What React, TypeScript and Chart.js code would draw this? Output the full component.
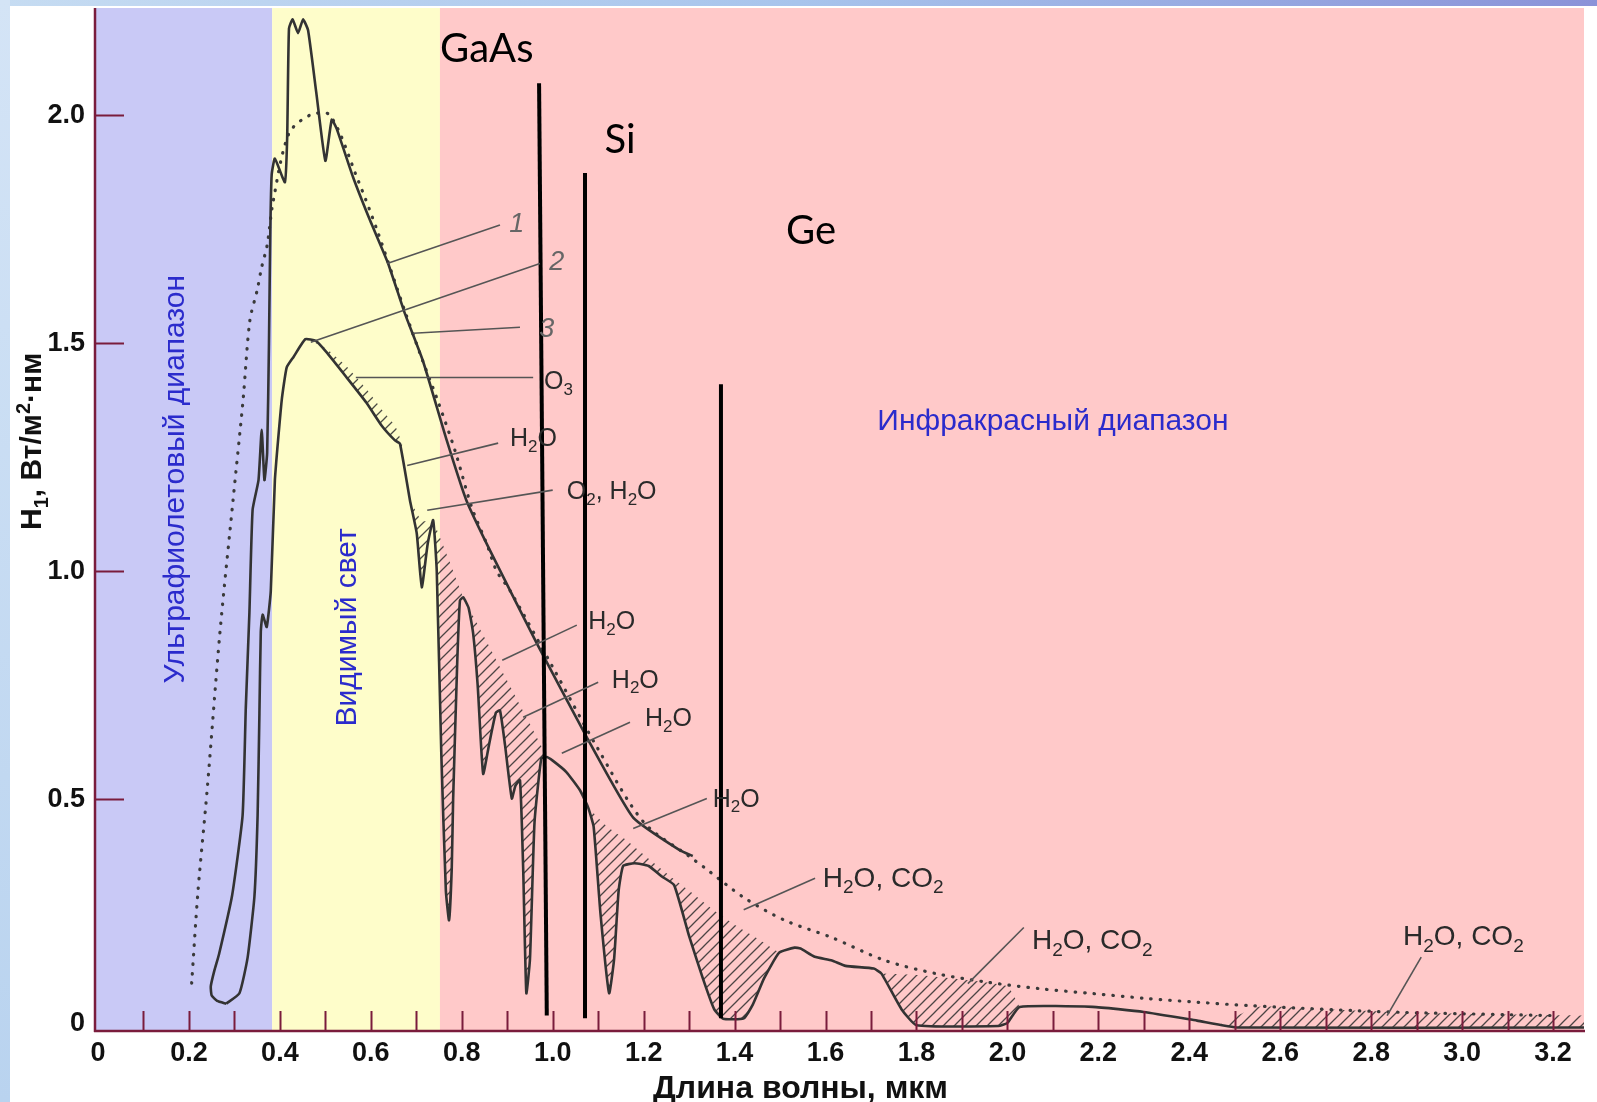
import React, { useEffect, useRef } from 'react';
import { Chart, registerables } from 'chart.js';

Chart.register(...registerables);

// ---------------- data ----------------
const xTickValues = [0, 0.2, 0.4, 0.6, 0.8, 1.0, 1.2, 1.4, 1.6, 1.8, 2.0, 2.2, 2.4, 2.6, 2.8, 3.0, 3.2];
const xTickLabels = ['0', '0.2', '0.4', '0.6', '0.8', '1.0', '1.2', '1.4', '1.6', '1.8', '2.0', '2.2', '2.4', '2.6', '2.8', '3.0', '3.2'];
const xMinorTicks = [0.1, 0.2, 0.3, 0.4, 0.5, 0.6, 0.7, 0.8, 0.9, 1.0, 1.1, 1.2, 1.3, 1.4, 1.5, 1.6, 1.7, 1.8, 1.9, 2.0, 2.1, 2.2, 2.3, 2.4, 2.5, 2.6, 2.7, 2.8, 2.9, 3.0, 3.1, 3.2];
const yTickValues = [0, 0.5, 1.0, 1.5, 2.0];
const yTickLabels = ['0', '0.5', '1.0', '1.5', '2.0'];

const xTitle = 'Длина волны, мкм';
const yTitle = 'H_1, Вт/м^2·нм';

// spectral ranges (µm)
const bandNames = ['Ультрафиолетовый диапазон', 'Видимый свет', 'Инфракрасный диапазон'];
const bandEdges = [0, 0.383, 0.752, 3.27];

// curve 3: black body (dotted)
const bbX = [0.206, 0.22, 0.24, 0.268, 0.297, 0.319, 0.334, 0.35, 0.36, 0.372, 0.385, 0.42, 0.466, 0.51, 0.572, 0.613, 0.675, 0.712, 0.745, 0.785, 0.822, 0.855, 0.877, 0.906, 1.0, 1.1, 1.2, 1.3, 1.333, 1.42, 1.51, 1.614, 1.73, 1.843, 1.957, 2.07, 2.19, 2.3, 2.42, 2.53, 2.65, 2.76, 2.87, 3.0, 3.1, 3.2];
const bbY = [0.097, 0.3, 0.52, 0.864, 1.156, 1.375, 1.55, 1.616, 1.667, 1.715, 1.81, 1.96, 2.0, 2.0, 1.857, 1.75, 1.57, 1.467, 1.38, 1.265, 1.14, 1.06, 1.0, 0.958, 0.79, 0.61, 0.45, 0.375, 0.351, 0.285, 0.235, 0.197, 0.147, 0.118, 0.099, 0.085, 0.074, 0.064, 0.055, 0.048, 0.042, 0.037, 0.033, 0.03, 0.028, 0.026];

// curve 1: extraterrestrial (AM0)
const am0X = [0.282, 0.262, 0.25, 0.248, 0.256, 0.266, 0.295, 0.318, 0.325, 0.333, 0.34, 0.353, 0.36, 0.366, 0.372, 0.376, 0.379, 0.382, 0.389, 0.411, 0.416, 0.42, 0.428, 0.44, 0.451, 0.462, 0.48, 0.5, 0.514, 0.525, 0.561, 0.598, 0.638, 0.675, 0.715, 0.767, 0.81, 0.862, 0.965, 1.075, 1.177, 1.28, 1.308];
const am0Y = [0.052, 0.058, 0.07, 0.09, 0.125, 0.16, 0.29, 0.465, 0.7, 0.91, 1.135, 1.2, 1.31, 1.2, 1.26, 1.5, 1.75, 1.87, 1.905, 1.853, 1.95, 2.19, 2.21, 2.18, 2.21, 2.186, 2.05, 1.9, 1.99, 1.97, 1.864, 1.77, 1.675, 1.565, 1.46, 1.287, 1.156, 1.046, 0.842, 0.636, 0.46, 0.388, 0.376];

// curve 2: at sea level (with absorption bands)
const amX = [0.282, 0.311, 0.329, 0.344, 0.351, 0.355, 0.358, 0.362, 0.371, 0.38, 0.389, 0.404, 0.415, 0.43, 0.456, 0.479, 0.501, 0.546, 0.59, 0.624, 0.653, 0.664, 0.686, 0.701, 0.712, 0.725, 0.737, 0.745, 0.755, 0.765, 0.772, 0.778, 0.781, 0.79, 0.796, 0.803, 0.815, 0.825, 0.835, 0.847, 0.86, 0.875, 0.884, 0.895, 0.91, 0.918, 0.928, 0.935, 0.942, 0.95, 0.96, 0.975, 0.987, 1.0, 1.03, 1.06, 1.078, 1.09, 1.105, 1.124, 1.135, 1.145, 1.155, 1.18, 1.211, 1.24, 1.267, 1.3, 1.33, 1.355, 1.375, 1.42, 1.44, 1.465, 1.498, 1.532, 1.545, 1.576, 1.614, 1.644, 1.706, 1.723, 1.767, 1.8, 1.98, 2.0, 2.027, 2.187, 2.3, 2.417, 2.508, 3.27];
const amY = [0.052, 0.075, 0.153, 0.287, 0.465, 0.689, 0.867, 0.905, 0.878, 0.957, 1.2, 1.375, 1.447, 1.47, 1.509, 1.505, 1.482, 1.426, 1.37, 1.319, 1.287, 1.28, 1.156, 1.083, 0.965, 1.06, 1.112, 1.0, 0.6, 0.3, 0.235, 0.35, 0.5, 0.8, 0.936, 0.943, 0.92, 0.864, 0.75, 0.556, 0.62, 0.69, 0.695, 0.62, 0.502, 0.53, 0.542, 0.35, 0.075, 0.15, 0.45, 0.59, 0.593, 0.585, 0.56, 0.52, 0.482, 0.44, 0.25, 0.075, 0.15, 0.3, 0.354, 0.36, 0.354, 0.331, 0.312, 0.2, 0.108, 0.04, 0.019, 0.02, 0.05, 0.108, 0.164, 0.175, 0.173, 0.155, 0.147, 0.135, 0.129, 0.118, 0.04, 0.005, 0.003, 0.01, 0.045, 0.045, 0.034, 0.015, 0.0, 0.0];

// upper edges of hatched absorption areas
const hatchBands = [
  { x: [0.468, 0.5, 0.546, 0.59, 0.624, 0.653, 0.669], y: [1.505, 1.49, 1.45, 1.4, 1.355, 1.32, 1.28] },
  { x: [0.686, 0.7, 0.712, 0.725, 0.737], y: [1.156, 1.13, 1.11, 1.11, 1.112] },
  { x: [0.737, 0.77, 0.803], y: [1.112, 1.03, 0.943] },
  { x: [0.803, 0.85, 0.9, 0.95, 0.987], y: [0.943, 0.855, 0.76, 0.665, 0.593] },
  { x: [1.078, 1.12, 1.163, 1.211, 1.267, 1.3, 1.35, 1.4, 1.45, 1.498], y: [0.482, 0.44, 0.41, 0.37, 0.325, 0.3, 0.26, 0.225, 0.195, 0.164] },
  { x: [1.723, 1.8, 1.9, 2.0, 2.027], y: [0.118, 0.115, 0.105, 0.09, 0.045] },
  { x: [2.47, 2.55, 2.7, 2.85, 3.0, 3.27], y: [0.008, 0.045, 0.04, 0.034, 0.03, 0.026] },
];

// band-gap edges of semiconductors
const gapNames = ['GaAs', 'Si', 'Ge'];
const gapTopX = [0.97, 1.071, 1.37];
const gapBottomX = [0.987, 1.071, 1.37];
const gapTopY = [2.07, 1.873, 1.41];
const gapBottomY = [0.026, 0.02, 0.02];

// ---------------- layout / styles ----------------
const W = 1597;
const H = 1102;
const AXIS = '#7a1c3c';
const CURVE = '#333333';
const SANS = '"Liberation Sans", Arial, sans-serif';

const gapLabelPos = [
  { x: 0.855, y: 2.116 },
  { x: 1.148, y: 1.917 },
  { x: 1.568, y: 1.717 },
];

type Ann = { text: string; x: number; y: number; align: 'left' | 'center'; italic?: boolean; size: number; line: number[] };
const annotations: Ann[] = [
  { text: '1', x: 0.921, y: 1.765, align: 'center', italic: true, size: 27, line: [0.636, 1.675, 0.884, 1.759] },
  { text: '2', x: 1.009, y: 1.682, align: 'center', italic: true, size: 27, line: [0.468, 1.502, 0.972, 1.675] },
  { text: '3', x: 0.987, y: 1.535, align: 'center', italic: true, size: 27, line: [0.693, 1.522, 0.928, 1.535] },
  { text: 'O_3', x: 0.981, y: 1.419, align: 'left', size: 25, line: [0.567, 1.425, 0.957, 1.425] },
  { text: 'H_2O', x: 0.906, y: 1.294, align: 'left', size: 25, line: [0.68, 1.232, 0.88, 1.281] },
  { text: 'O_2, H_2O', x: 1.031, y: 1.178, align: 'left', size: 25, line: [0.724, 1.134, 1.0, 1.178] },
  { text: 'H_2O', x: 1.078, y: 0.893, align: 'left', size: 25, line: [0.889, 0.805, 1.053, 0.882] },
  { text: 'H_2O', x: 1.13, y: 0.765, align: 'left', size: 25, line: [0.935, 0.68, 1.1, 0.757] },
  { text: 'H_2O', x: 1.203, y: 0.68, align: 'left', size: 25, line: [1.02, 0.601, 1.17, 0.669] },
  { text: 'H_2O', x: 1.352, y: 0.504, align: 'left', size: 25, line: [1.177, 0.436, 1.339, 0.502] },
  { text: 'H_2O, CO_2', x: 1.594, y: 0.331, align: 'left', size: 28, line: [1.42, 0.258, 1.577, 0.327] },
  { text: 'H_2O, CO_2', x: 2.054, y: 0.193, align: 'left', size: 28, line: [1.913, 0.096, 2.036, 0.219] },
  { text: 'H_2O, CO_2', x: 2.87, y: 0.202, align: 'left', size: 28, line: [2.835, 0.026, 2.91, 0.154] },
];

const bandLabelPos = [
  { x: 0.172, y: 1.202, rot: true },
  { x: 0.55, y: 0.877, rot: true },
  { x: 2.1, y: 1.327, rot: false },
];
const bandColors = ['#c9c9f6', '#fefdca', '#ffc9c9'];

// ---------------- helpers ----------------
function drawRich(
  ctx: CanvasRenderingContext2D, text: string, x: number, y: number, size: number,
  style: string, family: string, align: 'left' | 'center' | 'right', color: string,
) {
  const parts: { t: string; m: number }[] = [];
  let buf = '';
  for (let i = 0; i < text.length; i++) {
    const ch = text[i];
    if ((ch === '_' || ch === '^') && i + 1 < text.length) {
      if (buf) { parts.push({ t: buf, m: 0 }); buf = ''; }
      parts.push({ t: text[i + 1], m: ch === '_' ? 1 : 2 });
      i++;
      continue;
    }
    buf += ch;
  }
  if (buf) parts.push({ t: buf, m: 0 });
  const font = (m: number) => `${style} ${m ? Math.round(size * 0.68) : size}px ${family}`;
  let w = 0;
  for (const p of parts) { ctx.font = font(p.m); w += ctx.measureText(p.t).width; }
  let cx = align === 'left' ? x : align === 'center' ? x - w / 2 : x - w;
  ctx.fillStyle = color;
  ctx.textAlign = 'left';
  ctx.textBaseline = 'alphabetic';
  for (const p of parts) {
    ctx.font = font(p.m);
    const dy = p.m === 1 ? size * 0.22 : p.m === 2 ? -size * 0.36 : 0;
    ctx.fillText(p.t, cx, y + dy);
    cx += ctx.measureText(p.t).width;
  }
}

function makeHatch(ctx: CanvasRenderingContext2D): CanvasPattern | string {
  const c = document.createElement('canvas');
  const s = 11;
  c.width = s; c.height = s;
  const g = c.getContext('2d');
  if (!g) return 'rgba(60,60,60,0.3)';
  g.strokeStyle = 'rgba(45,45,45,0.85)';
  g.lineWidth = 1.3;
  g.beginPath();
  g.moveTo(0, s); g.lineTo(s, 0);
  g.moveTo(-3, 3); g.lineTo(3, -3);
  g.moveTo(s - 3, s + 3); g.lineTo(s + 3, s - 3);
  g.stroke();
  return ctx.createPattern(c, 'repeat') || 'rgba(60,60,60,0.3)';
}

const pts = (xs: number[], ys: number[]) => xs.map((x, i) => ({ x, y: ys[i] }));

// ---------------- plugins ----------------
const backgroundPlugin = {
  id: 'spectrumBackground',
  beforeDraw(chart: any) {
    const { ctx, chartArea: a } = chart;
    const xs = chart.scales.x;
    ctx.save();
    ctx.fillStyle = '#ffffff';
    ctx.fillRect(0, 0, chart.width, chart.height);
    const gTop = ctx.createLinearGradient(0, 0, chart.width, 0);
    gTop.addColorStop(0, '#c6dcf2');
    gTop.addColorStop(0.5, '#a8c4ec');
    gTop.addColorStop(1, '#8a92d8');
    ctx.fillStyle = gTop;
    ctx.fillRect(0, 0, chart.width, 6);
    const gLeft = ctx.createLinearGradient(0, 0, 0, chart.height);
    gLeft.addColorStop(0, '#d4e4f6');
    gLeft.addColorStop(1, '#b9d3ef');
    ctx.fillStyle = gLeft;
    ctx.fillRect(0, 0, 10, chart.height);
    for (let i = 0; i < bandColors.length; i++) {
      const x0 = i === 0 ? a.left : xs.getPixelForValue(bandEdges[i]);
      const x1 = i === bandColors.length - 1 ? a.right : xs.getPixelForValue(bandEdges[i + 1]);
      ctx.fillStyle = bandColors[i];
      ctx.fillRect(x0, a.top, x1 - x0, a.bottom - a.top);
    }
    ctx.restore();
  },
  beforeDatasetsDraw(chart: any) {
    const { ctx } = chart;
    const xs = chart.scales.x;
    const ys = chart.scales.y;
    ctx.save();
    for (let i = 0; i < bandNames.length; i++) {
      const p = bandLabelPos[i];
      const px = xs.getPixelForValue(p.x);
      const py = ys.getPixelForValue(p.y);
      ctx.font = `30px ${SANS}`;
      ctx.fillStyle = '#2b2bcc';
      ctx.textAlign = 'center';
      ctx.textBaseline = 'middle';
      if (p.rot) {
        ctx.save();
        ctx.translate(px, py);
        ctx.rotate(-Math.PI / 2);
        ctx.fillText(bandNames[i], 0, 0);
        ctx.restore();
      } else {
        ctx.fillText(bandNames[i], px, py);
      }
    }
    ctx.restore();
  },
  afterDatasetsDraw(chart: any) {
    const { ctx, chartArea: a } = chart;
    const xs = chart.scales.x;
    const ys = chart.scales.y;
    ctx.save();
    // leader lines + annotation text
    ctx.strokeStyle = '#555555';
    ctx.lineWidth = 1.6;
    for (const an of annotations) {
      ctx.beginPath();
      ctx.moveTo(xs.getPixelForValue(an.line[0]), ys.getPixelForValue(an.line[1]));
      ctx.lineTo(xs.getPixelForValue(an.line[2]), ys.getPixelForValue(an.line[3]));
      ctx.stroke();
    }
    for (const an of annotations) {
      const px = xs.getPixelForValue(an.x);
      const py = ys.getPixelForValue(an.y);
      drawRich(ctx, an.text, px, py + an.size * 0.36, an.size, an.italic ? 'italic' : 'normal', SANS, an.align, an.italic ? '#666666' : '#2a2a2a');
    }
    // semiconductor labels
    for (let i = 0; i < gapNames.length; i++) {
      ctx.font = `40px Lato, "Open Sans", sans-serif`;
      ctx.fillStyle = '#000000';
      ctx.textAlign = 'center';
      ctx.textBaseline = 'alphabetic';
      ctx.fillText(gapNames[i], xs.getPixelForValue(gapLabelPos[i].x), ys.getPixelForValue(gapLabelPos[i].y));
    }
    // axes
    ctx.strokeStyle = AXIS;
    ctx.lineWidth = 2.5;
    ctx.beginPath();
    ctx.moveTo(a.left + 1, a.top);
    ctx.lineTo(a.left + 1, a.bottom);
    ctx.moveTo(a.left, a.bottom - 1);
    ctx.lineTo(a.right + 1, a.bottom - 1);
    ctx.stroke();
    ctx.lineWidth = 2;
    ctx.beginPath();
    for (const v of xMinorTicks) {
      const px = Math.round(xs.getPixelForValue(v)) + 0.5;
      ctx.moveTo(px, a.bottom - 1);
      ctx.lineTo(px, a.bottom - 21);
    }
    for (const v of yTickValues) {
      if (v === 0) continue;
      const py = Math.round(ys.getPixelForValue(v)) + 0.5;
      ctx.moveTo(a.left + 1, py);
      ctx.lineTo(a.left + 30, py);
    }
    ctx.stroke();
    // tick labels
    ctx.fillStyle = '#111111';
    ctx.font = `bold 27px ${SANS}`;
    ctx.textAlign = 'center';
    ctx.textBaseline = 'middle';
    xTickValues.forEach((v, i) => {
      ctx.fillText(xTickLabels[i], xs.getPixelForValue(v), a.bottom + 22);
    });
    ctx.textAlign = 'right';
    yTickValues.forEach((v, i) => {
      ctx.fillText(yTickLabels[i], a.left - 9, ys.getPixelForValue(v) - (v === 0 ? 4 : 0));
    });
    // axis titles
    drawRich(ctx, xTitle, xs.getPixelForValue(1.545), a.bottom + 66, 32, 'bold', SANS, 'center', '#111111');
    ctx.save();
    ctx.translate(41, ys.getPixelForValue(1.285));
    ctx.rotate(-Math.PI / 2);
    drawRich(ctx, yTitle, 0, 0, 30, 'bold', SANS, 'center', '#111111');
    ctx.restore();
    ctx.restore();
  },
};

// ---------------- component ----------------
export default function App() {
  const canvasRef = useRef<HTMLCanvasElement | null>(null);

  useEffect(() => {
    const canvas = canvasRef.current;
    if (!canvas) return;
    const ctx = canvas.getContext('2d');
    if (!ctx) return;
    const hatch = makeHatch(ctx);

    const datasets: any[] = [];
    for (let i = 0; i < gapNames.length; i++) {
      datasets.push({
        label: gapNames[i],
        data: [{ x: gapTopX[i], y: gapTopY[i] }, { x: gapBottomX[i], y: gapBottomY[i] }],
        borderColor: '#000000',
        borderWidth: 4,
        pointRadius: 0,
        fill: false,
        tension: 0,
      });
    }
    const seaIndex = datasets.length;
    datasets.push({
      label: '2',
      data: pts(amX, amY),
      borderColor: CURVE,
      borderWidth: 2.6,
      pointRadius: 0,
      fill: false,
      tension: 0.15,
    });
    datasets.push({
      label: '1',
      data: pts(am0X, am0Y),
      borderColor: CURVE,
      borderWidth: 2.6,
      pointRadius: 0,
      fill: false,
      tension: 0.15,
    });
    datasets.push({
      label: '3',
      data: pts(bbX, bbY),
      borderColor: '#3a3a3a',
      borderWidth: 3.2,
      borderDash: [0.5, 9],
      borderCapStyle: 'round',
      pointRadius: 0,
      fill: false,
      tension: 0.3,
    });
    hatchBands.forEach((b, i) => {
      datasets.push({
        label: 'hatch' + i,
        data: pts(b.x, b.y),
        borderColor: 'rgba(0,0,0,0)',
        borderWidth: 0,
        pointRadius: 0,
        backgroundColor: hatch,
        fill: { target: seaIndex },
        tension: 0.15,
      });
    });

    const chart = new Chart(ctx, {
      type: 'line',
      data: { datasets },
      options: {
        animation: false,
        responsive: false,
        devicePixelRatio: 1,
        events: [],
        layout: { padding: { left: 94, top: 8, right: W - 1584, bottom: H - 1032 } },
        scales: {
          x: { type: 'linear', min: -0.0088, max: 3.268, display: false },
          y: { type: 'linear', min: -0.01, max: 2.235, display: false },
        },
        plugins: {
          legend: { display: false },
          tooltip: { enabled: false },
          title: { display: false },
        },
      },
      plugins: [backgroundPlugin],
    } as any);

    return () => chart.destroy();
  }, []);

  return (
    <div style={{ position: 'fixed', left: 0, top: 0, width: W, height: H, background: '#fff' }}>
      <canvas ref={canvasRef} width={W} height={H} style={{ width: W, height: H, display: 'block' }} />
    </div>
  );
}
